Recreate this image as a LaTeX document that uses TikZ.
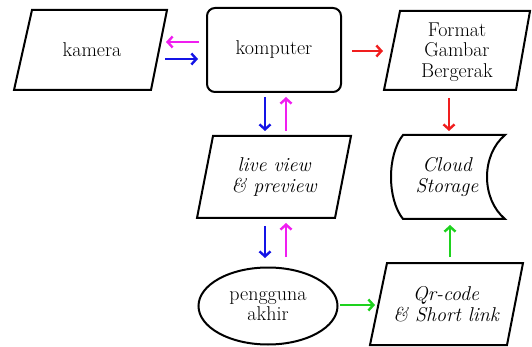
\documentclass[tikz,border=0pt]{standalone}
\usetikzlibrary{arrows.meta}
\definecolor{cpink}{RGB}{240,30,240}
\definecolor{cblue}{RGB}{20,20,230}
\definecolor{cred}{RGB}{240,30,30}
\definecolor{cgreen}{RGB}{30,210,30}
\tikzset{
  shapeline/.style={draw=black,line width=2pt,line join=miter},
  lbl/.style={font=\rmfamily\fontsize{20}{20.5}\selectfont,align=center,inner sep=0pt},
  lbli/.style={font=\rmfamily\itshape\fontsize{20}{20.5}\selectfont,align=center,inner sep=0pt},
  conn/.style={line width=2.4pt,-{Straight Barb[length=5pt,width=11pt,line width=2.4pt]}},
}
\begin{document}
\begin{tikzpicture}[x=1pt,y=-1pt]
\useasboundingbox (0,0) rectangle (532,347);
% shapes
\draw[shapeline] (32,10) -- (167,10) -- (151,90) -- (14,90) -- cycle;
\draw[shapeline,rounded corners=8pt] (207,8) rectangle (341,92);
\draw[shapeline] (400,11) -- (530,11) -- (516,90) -- (384,90) -- cycle;
\draw[shapeline] (213,136) -- (351,136) -- (335,218) -- (197,218) -- cycle;
\draw[shapeline] (403,135) -- (505,135) .. controls (481,155) and (481,199) .. (505,219)
  -- (403,219) .. controls (387,199) and (387,155) .. (403,135) -- cycle;
\draw[shapeline] (268,306) ellipse [x radius=69.5, y radius=38.5];
\draw[shapeline] (387,263) -- (523,263) -- (507,345) -- (370,345) -- cycle;
% texts
\node[lbl] (kamera) at (92,50) {kamera};
\node[lbl] (komputer) at (274,50) {komputer};
\node[lbl] (format) at (457,52) {Format\\Gambar\\Bergerak};
\node[lbli] (live) at (274,177) {live view\\\& preview};
\node[lbli] (cloud) at (447,177) {Cloud\\Storage};
\node[lbl] (user) at (268,306) {pengguna\\akhir};
\node[lbli] (qr) at (446,304) {Qr-code\\\& Short link};
% connector end points
\coordinate (kpA) at (199,42); \coordinate (kpB) at (166,42);
\coordinate (kbA) at (165,59); \coordinate (kbB) at (198,59);
\coordinate (rA) at (352,51); \coordinate (rB) at (383,51);
\coordinate (b1A) at (265,97); \coordinate (b1B) at (265,131);
\coordinate (p1A) at (286,131); \coordinate (p1B) at (286,97);
\coordinate (r2A) at (449,98); \coordinate (r2B) at (449,131);
\coordinate (b2A) at (265,226); \coordinate (b2B) at (265,258);
\coordinate (p2A) at (286,257); \coordinate (p2B) at (286,223);
\coordinate (g1A) at (450,257); \coordinate (g1B) at (450,225);
\coordinate (g2A) at (340,305); \coordinate (g2B) at (375,305);
% connectors
\draw[conn,cpink] (kpA) -- (kpB);
\draw[conn,cblue] (kbA) -- (kbB);
\draw[conn,cred] (rA) -- (rB);
\draw[conn,cblue] (b1A) -- (b1B);
\draw[conn,cpink] (p1A) -- (p1B);
\draw[conn,cred] (r2A) -- (r2B);
\draw[conn,cblue] (b2A) -- (b2B);
\draw[conn,cpink] (p2A) -- (p2B);
\draw[conn,cgreen] (g1A) -- (g1B);
\draw[conn,cgreen] (g2A) -- (g2B);
\end{tikzpicture}
\end{document}
